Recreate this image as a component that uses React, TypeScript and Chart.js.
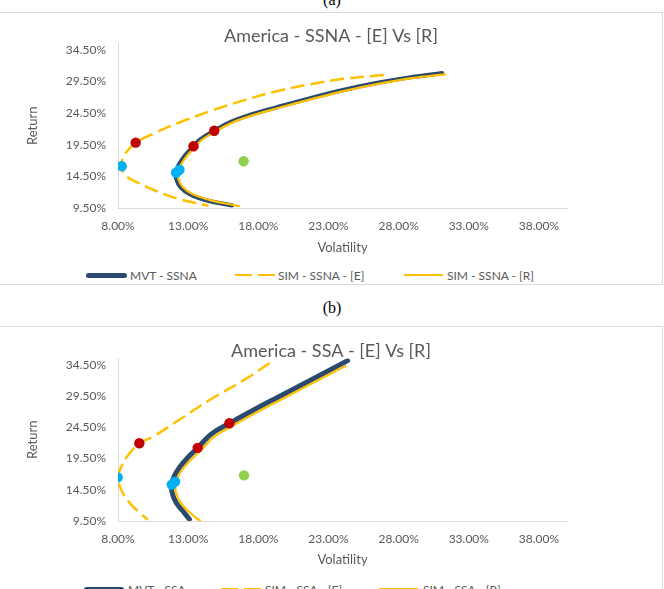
import React, { useEffect, useRef } from "react";
import { Chart, registerables } from "chart.js";

Chart.register(...registerables);

const FONT = "Lato, 'Open Sans', 'DejaVu Sans', sans-serif";
const TEXT = "#595959";
const NAVY = "#2B4A70";
const GOLD = "#FFC000";
const RED = "#C00000";
const BLUE = "#00B0F0";
const GREEN = "#92D050";
const AXIS = "#D9D9D9";

const xTicks = [8, 13, 18, 23, 28, 33, 38];
const yTicks = [9.5, 14.5, 19.5, 24.5, 29.5, 34.5];
const xTitle = "Volatility";
const yTitle = "Return";

// ---------- (a) America - SSNA ----------
const aTitle = "America - SSNA - [E] Vs [R]";
const aLabels = ["MVT - SSNA", "SIM - SSNA - [E]", "SIM - SSNA - [R]"];
const aMvtVol = [31.1, 28.86, 26.48, 24.1, 21.71, 19.33, 17.43, 16.0, 14.86, 13.86, 13.38, 12.79, 12.31, 12.14, 12.14, 12.43, 13.14, 14.33, 16.12];
const aMvtRet = [30.8, 30.15, 29.26, 28.16, 26.85, 25.43, 24.23, 23.07, 21.71, 20.35, 19.25, 17.83, 16.26, 15.06, 14.16, 12.85, 11.65, 10.7, 9.92];
const aRVol = [31.3, 28.95, 26.55, 24.15, 21.8, 19.42, 17.52, 16.1, 14.95, 13.97, 13.5, 12.92, 12.45, 12.28, 12.3, 12.6, 13.3, 14.55, 16.6];
const aRRet = [30.6, 30.0, 29.1, 28.0, 26.7, 25.3, 24.1, 22.95, 21.6, 20.25, 19.15, 17.75, 16.2, 15.0, 14.1, 12.85, 11.7, 10.75, 9.81];
const aEVol = [26.95, 24.1, 21.71, 19.33, 16.95, 14.57, 12.19, 10.52, 9.26, 8.7, 8.38, 8.26, 8.55, 9.4, 10.6, 12.2, 14.45];
const aERet = [30.5, 29.9, 29.05, 27.95, 26.5, 24.8, 22.85, 21.25, 19.82, 18.6, 17.57, 16.1, 14.6, 13.5, 12.3, 11.0, 9.86];
const aRedVol = [9.26, 13.38, 14.86];
const aRedRet = [19.82, 19.25, 21.71];
const aBlueVol = [8.26, 12.14, 12.38];
const aBlueRet = [16.1, 15.06, 15.55];
const aGreenVol = [16.95];
const aGreenRet = [16.89];

// ---------- (b) America - SSA ----------
const bTitle = "America - SSA - [E] Vs [R]";
const bLabels = ["MVT - SSA", "SIM - SSA - [E]", "SIM - SSA - [R]"];
const bMvtVol = [24.36, 21.79, 19.4, 17.5, 15.93, 14.64, 13.67, 12.98, 12.38, 12.02, 11.83, 11.86, 12.14, 12.62, 13.09];
const bMvtRet = [35.14, 32.1, 29.3, 27.05, 25.1, 23.39, 21.15, 19.65, 18.05, 16.71, 15.38, 14.04, 12.44, 11.1, 9.77];
const bRVol = [24.2, 21.9, 19.6, 17.7, 16.15, 14.85, 13.9, 13.2, 12.6, 12.25, 12.1, 12.15, 12.5, 13.1, 13.88];
const bRRet = [34.3, 31.6, 28.9, 26.65, 24.7, 23.0, 20.8, 19.3, 17.8, 16.5, 15.2, 13.9, 12.3, 10.9, 9.45];
const bEVol = [18.81, 17.02, 14.64, 12.26, 10.6, 9.52, 8.69, 8.21, 8.0, 8.21, 8.81, 9.4, 10.12];
const bERet = [34.76, 32.1, 29.0, 25.53, 23.12, 21.89, 19.92, 18.05, 16.45, 14.57, 12.44, 11.1, 9.7];
const bRedVol = [9.52, 13.68, 15.94];
const bRedRet = [21.93, 21.2, 25.13];
const bBlueVol = [7.98, 11.83, 12.07];
const bBlueRet = [16.48, 15.32, 15.8];
const bGreenVol = [16.98];
const bGreenRet = [16.8];

const toXY = (vol: number[], ret: number[]) => vol.map((v, i) => ({ x: v, y: ret[i] }));
const pct = (v: any) => Number(v).toFixed(2) + "%";

type Spec = {
  title: string;
  labels: string[];
  mvt: [number[], number[]];
  e: [number[], number[]];
  r: [number[], number[]];
  red: [number[], number[]];
  blue: [number[], number[]];
  green: [number[], number[]];
  navyWidth: number;
  titlePadTop: number;
  xTitlePadBottom: number;
};

function FrontierChart({ spec, left, top }: { spec: Spec; left: number; top: number }) {
  const ref = useRef<HTMLCanvasElement>(null);
  useEffect(() => {
    if (!ref.current) return;
    const dot = (d: [number[], number[]], color: string) => ({
      label: "",
      data: toXY(d[0], d[1]),
      showLine: false,
      pointRadius: 5.2,
      pointBackgroundColor: color,
      pointBorderColor: color,
      pointBorderWidth: 0,
      order: 0,
    });
    const line = (d: [number[], number[]], label: string, color: string, width: number, dash: number[], order: number) => ({
      label,
      data: toXY(d[0], d[1]),
      showLine: true,
      borderColor: color,
      backgroundColor: color,
      borderWidth: width,
      borderDash: dash,
      borderCapStyle: dash.length ? "butt" : "round",
      pointRadius: 0,
      pointHoverRadius: 0,
      tension: 0.4,
      fill: false,
      order,
    });
    const chart = new Chart(ref.current, {
      type: "scatter",
      data: {
        datasets: [
          dot(spec.red, RED),
          dot(spec.blue, BLUE),
          dot(spec.green, GREEN),
          line(spec.r, spec.labels[2], GOLD, 2.25, [], 1),
          line(spec.e, spec.labels[1], GOLD, 2.5, [14, 6], 2),
          line(spec.mvt, spec.labels[0], NAVY, spec.navyWidth, [], 3),
        ] as any,
      },
      options: {
        animation: false,
        responsive: false,
        events: [],
        layout: { padding: { left: 0, right: 0, top: 0, bottom: 0 } },
        plugins: {
          legend: { display: false },
          tooltip: { enabled: false },
          title: {
            display: true,
            text: spec.title,
            color: TEXT,
            font: { family: FONT, size: 18, weight: "normal", lineHeight: 0.8 },
            padding: { top: spec.titlePadTop, bottom: 0 },
          },
        },
        scales: {
          x: {
            type: "linear",
            min: 8,
            max: 40,
            afterBuildTicks: (s: any) => {
              s.ticks = xTicks.map((v) => ({ value: v }));
            },
            afterFit: (s: any) => {
              s.height = 57;
            },
            grid: { display: false, drawTicks: false },
            border: { display: true, color: AXIS, width: 1 },
            ticks: {
              padding: 11,
              color: TEXT,
              autoSkip: false,
              maxRotation: 0,
              font: { family: FONT, size: 12 },
              callback: pct,
            },
            title: {
              display: true,
              text: xTitle,
              color: TEXT,
              font: { family: FONT, size: 13 },
              padding: { top: 0, bottom: spec.xTitlePadBottom },
            },
          },
          y: {
            type: "linear",
            min: 9.5,
            max: 35.5,
            afterBuildTicks: (s: any) => {
              s.ticks = yTicks.map((v) => ({ value: v }));
            },
            afterFit: (s: any) => {
              s.width = 117;
            },
            grid: { display: false, drawTicks: false },
            border: { display: true, color: AXIS, width: 1 },
            ticks: {
              padding: 12,
              color: TEXT,
              autoSkip: false,
              font: { family: FONT, size: 12 },
              callback: pct,
            },
            title: {
              display: true,
              text: yTitle,
              color: TEXT,
              font: { family: FONT, size: 13 },
              padding: { top: 24, bottom: 0 },
            },
          },
          // empty right-hand spacer so the title is centred on the whole chart area
          spacer: {
            type: "linear",
            position: "right",
            display: true,
            min: 9.5,
            max: 35.5,
            afterFit: (s: any) => {
              s.width = 94;
            },
            grid: { display: false, drawTicks: false },
            border: { display: false },
            ticks: { display: false },
          },
        },
      } as any,
    });
    return () => chart.destroy();
  }, []);
  return (
    <canvas
      ref={ref}
      width={660}
      height={252}
      style={{ position: "absolute", left, top, width: 660, height: 252 }}
    />
  );
}

type LegendItem = { kind: "navy" | "dash" | "solid"; lineLeft: number; lineWidth: number; textLeft: number; text: string };

function Legend({ y, items }: { y: number; items: LegendItem[] }) {
  return (
    <>
      {items.map((it, i) => {
        const h = it.kind === "navy" ? 5 : 2.5;
        const bg =
          it.kind === "navy"
            ? NAVY
            : it.kind === "solid"
            ? GOLD
            : `repeating-linear-gradient(to right, ${GOLD} 0px, ${GOLD} 17px, transparent 17px, transparent 23px)`;
        return (
          <React.Fragment key={i}>
            <div
              style={{
                position: "absolute",
                left: it.lineLeft,
                top: y - h / 2,
                width: it.lineWidth,
                height: h,
                background: bg,
                borderRadius: it.kind === "navy" ? 2.5 : 0,
              }}
            />
            <div
              style={{
                position: "absolute",
                left: it.textLeft,
                top: y - 7.5,
                height: 15,
                lineHeight: "15px",
                fontSize: 12,
                fontFamily: FONT,
                color: TEXT,
                whiteSpace: "nowrap",
              }}
            >
              {it.text}
            </div>
          </React.Fragment>
        );
      })}
    </>
  );
}

const specA: Spec = {
  title: aTitle,
  labels: aLabels,
  mvt: [aMvtVol, aMvtRet],
  e: [aEVol, aERet],
  r: [aRVol, aRRet],
  red: [aRedVol, aRedRet],
  blue: [aBlueVol, aBlueRet],
  green: [aGreenVol, aGreenRet],
  navyWidth: 4.2,
  titlePadTop: 16,
  xTitlePadBottom: 9,
};

const specB: Spec = {
  title: bTitle,
  labels: bLabels,
  mvt: [bMvtVol, bMvtRet],
  e: [bEVol, bERet],
  r: [bRVol, bRRet],
  red: [bRedVol, bRedRet],
  blue: [bBlueVol, bBlueRet],
  green: [bGreenVol, bGreenRet],
  navyWidth: 5,
  titlePadTop: 18,
  xTitlePadBottom: 10,
};

export default function App() {
  const frame = (top: number, height: number): React.CSSProperties => ({
    position: "absolute",
    left: -1,
    top,
    width: 664,
    height,
    border: `1px solid ${AXIS}`,
    boxSizing: "border-box",
    background: "#fff",
  });
  const caption: React.CSSProperties = {
    position: "absolute",
    left: 0,
    width: 664,
    textAlign: "center",
    fontFamily: "'Liberation Serif', 'Times New Roman', serif",
    fontSize: 16,
    lineHeight: "16px",
    color: "#000",
  };
  return (
    <div
      style={{
        position: "absolute",
        left: 0,
        top: 0,
        width: 664,
        height: 589,
        overflow: "hidden",
        background: "#fff",
      }}
    >
      <div style={{ ...caption, top: -8 }}>(a)</div>
      <div style={frame(12, 273)} />
      <FrontierChart spec={specA} left={1} top={13} />
      <Legend
        y={275}
        items={[
          { kind: "navy", lineLeft: 86, lineWidth: 41, textLeft: 130, text: aLabels[0] },
          { kind: "dash", lineLeft: 235, lineWidth: 40, textLeft: 278, text: aLabels[1] },
          { kind: "solid", lineLeft: 404, lineWidth: 39, textLeft: 447, text: aLabels[2] },
        ]}
      />
      <div style={{ ...caption, top: 300 }}>(b)</div>
      <div style={frame(326, 280)} />
      <FrontierChart spec={specB} left={1} top={326} />
      <Legend
        y={589}
        items={[
          { kind: "navy", lineLeft: 84, lineWidth: 40, textLeft: 128, text: bLabels[0] },
          { kind: "dash", lineLeft: 221, lineWidth: 40, textLeft: 265, text: bLabels[1] },
          { kind: "solid", lineLeft: 379, lineWidth: 39, textLeft: 423, text: bLabels[2] },
        ]}
      />
    </div>
  );
}
